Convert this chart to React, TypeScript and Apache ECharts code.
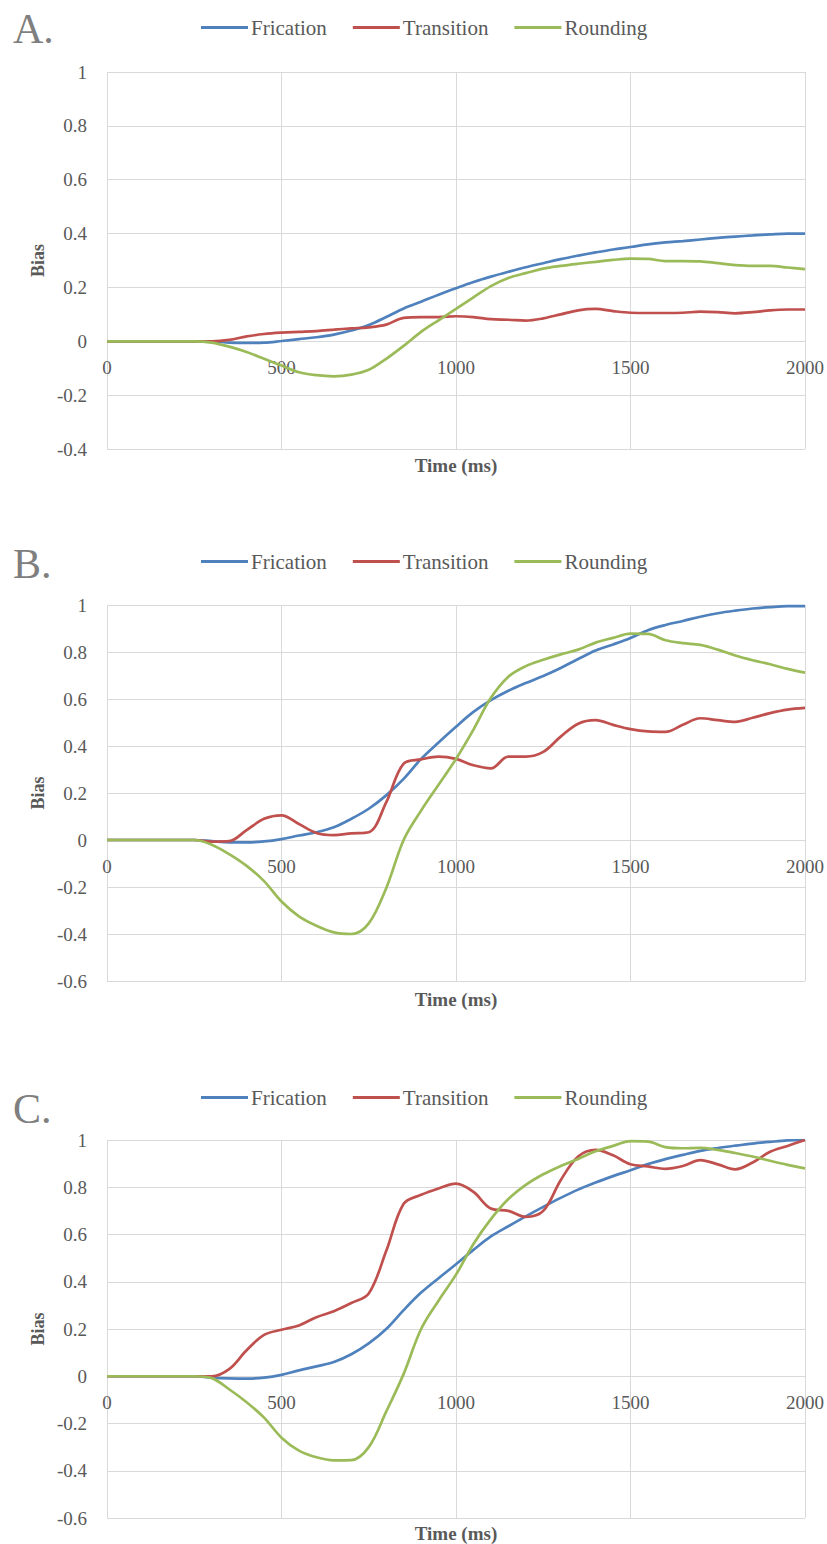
import React, { useEffect, useRef } from "react";
import * as echarts from "echarts";

const TIME_MS = [
  0, 50, 100, 150, 200, 250, 300, 350, 400, 450, 500, 550, 600, 650, 700, 750, 800, 850, 900, 950,
  1000, 1050, 1100, 1150, 1200, 1250, 1300, 1350, 1400, 1450, 1500, 1550, 1600, 1650, 1700, 1750,
  1800, 1850, 1900, 1950, 2000,
];

const SERIES_NAMES = ["Frication", "Transition", "Rounding"];
const SERIES_COLORS = ["#4F81BD", "#C0504D", "#9BBB59"];

// Panel A
const A_FRICATION = [
  0, 0, 0, 0, 0, 0, 0, -0.005, -0.006, -0.005, 0.001, 0.008, 0.015, 0.025, 0.04, 0.06, 0.09, 0.122,
  0.147, 0.173, 0.197, 0.22, 0.24, 0.258, 0.275, 0.29, 0.305, 0.318, 0.33, 0.341, 0.35, 0.36, 0.367,
  0.372, 0.378, 0.384, 0.389, 0.393, 0.397, 0.4, 0.4,
];
const A_TRANSITION = [
  0, 0, 0, 0, 0, 0, 0, 0.005, 0.018, 0.027, 0.032, 0.035, 0.038, 0.043, 0.048, 0.052, 0.062, 0.087,
  0.09, 0.09, 0.093, 0.09, 0.082, 0.08, 0.077, 0.085, 0.1, 0.115, 0.12, 0.112, 0.106, 0.105, 0.105,
  0.106, 0.11, 0.108, 0.104, 0.108, 0.115, 0.118, 0.118,
];
const A_ROUNDING = [
  0, 0, 0, 0, 0, 0, -0.005, -0.02, -0.04, -0.065, -0.09, -0.115, -0.126, -0.13, -0.124, -0.106,
  -0.065, -0.017, 0.035, 0.078, 0.12, 0.163, 0.205, 0.235, 0.253, 0.27, 0.28, 0.288, 0.295, 0.302,
  0.307, 0.306, 0.298, 0.298, 0.297, 0.29, 0.283, 0.28, 0.28, 0.274, 0.268,
];

// Panel B
const B_FRICATION = [
  0, 0, 0, 0, 0, 0, -0.005, -0.01, -0.01, -0.006, 0.004, 0.019, 0.033, 0.054, 0.09, 0.133, 0.19,
  0.26, 0.345, 0.415, 0.482, 0.545, 0.595, 0.635, 0.668, 0.698, 0.732, 0.77, 0.806, 0.832, 0.86,
  0.893, 0.915, 0.932, 0.95, 0.965, 0.976, 0.985, 0.991, 0.995, 0.995,
];
const B_TRANSITION = [
  0, 0, 0, 0, 0, 0, -0.007, -0.005, 0.042, 0.09, 0.105, 0.068, 0.03, 0.021, 0.028, 0.033, 0.16,
  0.325, 0.343, 0.355, 0.345, 0.318, 0.305, 0.355, 0.355, 0.375, 0.44, 0.495, 0.51, 0.49, 0.472,
  0.462, 0.46, 0.49, 0.518, 0.51, 0.503, 0.52, 0.54, 0.555, 0.562,
];
const B_ROUNDING = [
  0, 0, 0, 0, 0, 0, -0.02, -0.06, -0.11, -0.175, -0.262, -0.325, -0.365, -0.393, -0.4, -0.355,
  -0.205, 0.0, 0.125, 0.235, 0.345, 0.47, 0.605, 0.695, 0.74, 0.767, 0.79, 0.81, 0.84, 0.86, 0.878,
  0.877, 0.85, 0.838, 0.83, 0.81, 0.785, 0.765, 0.748, 0.728, 0.712,
];

// Panel C
const C_FRICATION = [
  0, 0, 0, 0, 0, 0, -0.006, -0.009, -0.01, -0.006, 0.006, 0.025, 0.042, 0.06, 0.093, 0.139, 0.2,
  0.28, 0.354, 0.415, 0.474, 0.535, 0.592, 0.635, 0.677, 0.717, 0.755, 0.79, 0.82, 0.847, 0.872,
  0.898, 0.919, 0.937, 0.954, 0.966, 0.976, 0.985, 0.992, 0.998, 1.0,
];
const C_TRANSITION = [
  0, 0, 0, 0, 0, 0, 0, 0.03, 0.11, 0.175, 0.197, 0.215, 0.25, 0.275, 0.31, 0.35, 0.53, 0.73, 0.768,
  0.795, 0.815, 0.78, 0.71, 0.7, 0.675, 0.7, 0.83, 0.93, 0.958, 0.935, 0.897, 0.888, 0.878, 0.89,
  0.915, 0.897, 0.876, 0.905, 0.95, 0.975, 1.0,
];
const C_ROUNDING = [
  0, 0, 0, 0, 0, 0, -0.008, -0.055, -0.11, -0.175, -0.26, -0.315, -0.343, -0.356, -0.355, -0.3,
  -0.15, 0.01, 0.2, 0.32, 0.43, 0.56, 0.665, 0.75, 0.81, 0.855, 0.89, 0.92, 0.952, 0.975, 0.995,
  0.993, 0.97, 0.965, 0.967, 0.958, 0.945, 0.93, 0.912, 0.895, 0.88,
];

const PANEL_LABELS = ["A.", "B.", "C."];
const PANEL_DATA = [
  [A_FRICATION, A_TRANSITION, A_ROUNDING],
  [B_FRICATION, B_TRANSITION, B_ROUNDING],
  [C_FRICATION, C_TRANSITION, C_ROUNDING],
];
const Y_MIN = [-0.4, -0.6, -0.6];
const Y_MAX = [1, 1, 1];
const X_TICKS = { min: 0, max: 2000, interval: 500 };
const Y_INTERVAL = 0.2;
const X_AXIS_TITLE = "Time (ms)";
const Y_AXIS_TITLE = "Bias";

// layout (pixels)
const GRIDS = [
  { top: 72, height: 377 },
  { top: 605, height: 376 },
  { top: 1140, height: 378 },
];
const GRID_LEFT = 107;
const GRID_WIDTH = 698;
const LEGEND_Y = [27, 561, 1097];
const LETTER_Y = [29, 564, 1109];
const TIME_Y = [465, 999, 1533];
const X_LABEL_GAP = 17;

const SERIF = "Liberation Serif";
const TEXT_COLOR = "#595959";
const GRID_COLOR = "#d9d9d9";

export default function App() {
  const ref = useRef<HTMLDivElement>(null);

  useEffect(() => {
    if (!ref.current) return;
    const chart = echarts.init(ref.current, undefined, { renderer: "svg" });

    const grid: any[] = [];
    const xAxis: any[] = [];
    const yAxis: any[] = [];
    const series: any[] = [];
    const legend: any[] = [];
    const graphic: any[] = [];

    PANEL_DATA.forEach((panel, p) => {
      const g = GRIDS[p];
      // distance from the grid's bottom edge up to the y = 0 line
      const zeroFromBottom = (g.height * (0 - Y_MIN[p])) / (Y_MAX[p] - Y_MIN[p]);
      grid.push({
        left: GRID_LEFT,
        top: g.top,
        width: GRID_WIDTH,
        height: g.height,
        containLabel: false,
      });
      xAxis.push({
        type: "value",
        gridIndex: p,
        min: X_TICKS.min,
        max: X_TICKS.max,
        interval: X_TICKS.interval,
        axisLine: { show: false, onZero: false },
        axisTick: { show: false },
        axisLabel: {
          show: true,
          margin: X_LABEL_GAP - zeroFromBottom,
          fontFamily: SERIF,
          fontSize: 19,
          color: TEXT_COLOR,
          formatter: (v: number) => String(v),
        },
        splitLine: { show: true, lineStyle: { color: GRID_COLOR, width: 1 } },
      });
      yAxis.push({
        type: "value",
        gridIndex: p,
        min: Y_MIN[p],
        max: Y_MAX[p],
        interval: Y_INTERVAL,
        axisLine: { show: false, onZero: false },
        axisTick: { show: false },
        axisLabel: {
          margin: 20,
          fontFamily: SERIF,
          fontSize: 19,
          color: TEXT_COLOR,
          formatter: (v: number) => String(Math.round(v * 10) / 10),
        },
        splitLine: { show: true, lineStyle: { color: GRID_COLOR, width: 1 } },
      });
      panel.forEach((values, s) => {
        series.push({
          name: SERIES_NAMES[s],
          type: "line",
          xAxisIndex: p,
          yAxisIndex: p,
          data: TIME_MS.map((t, i) => [t, values[i]]),
          showSymbol: false,
          symbol: "none",
          smooth: 0.35,
          lineStyle: { color: SERIES_COLORS[s], width: 2.7 },
          itemStyle: { color: SERIES_COLORS[s] },
          z: 3,
        });
      });
      legend.push({
        data: SERIES_NAMES,
        top: LEGEND_Y[p] - 15,
        left: 196,
        icon: "rect",
        itemWidth: 47,
        itemHeight: 3,
        itemGap: 26,
        textStyle: { fontFamily: SERIF, fontSize: 21, color: TEXT_COLOR, padding: [0, 0, 0, -2] },
        selectedMode: false,
      });
      graphic.push(
        {
          type: "text",
          left: 13,
          top: LETTER_Y[p] - 21,
          style: {
            text: PANEL_LABELS[p],
            font: `42px ${SERIF}`,
            fill: "#7f7f7f",
          },
        },
        {
          type: "text",
          x: GRID_LEFT + GRID_WIDTH / 2,
          y: TIME_Y[p],
          style: {
            text: X_AXIS_TITLE,
            font: `bold 19px ${SERIF}`,
            fill: TEXT_COLOR,
            align: "center",
            verticalAlign: "middle",
          },
        },
        {
          type: "text",
          x: 38,
          y: g.top + g.height / 2,
          rotation: Math.PI / 2,
          style: {
            text: Y_AXIS_TITLE,
            font: `bold 18px ${SERIF}`,
            fill: TEXT_COLOR,
            align: "center",
            verticalAlign: "middle",
          },
        }
      );
    });

    chart.setOption({
      animation: false,
      backgroundColor: "#ffffff",
      textStyle: { fontFamily: SERIF },
      grid,
      xAxis,
      yAxis,
      series,
      legend,
      graphic,
    });

    return () => chart.dispose();
  }, []);

  return (
    <div
      ref={ref}
      style={{ position: "absolute", left: 0, top: 0, width: 827, height: 1544 }}
    />
  );
}
